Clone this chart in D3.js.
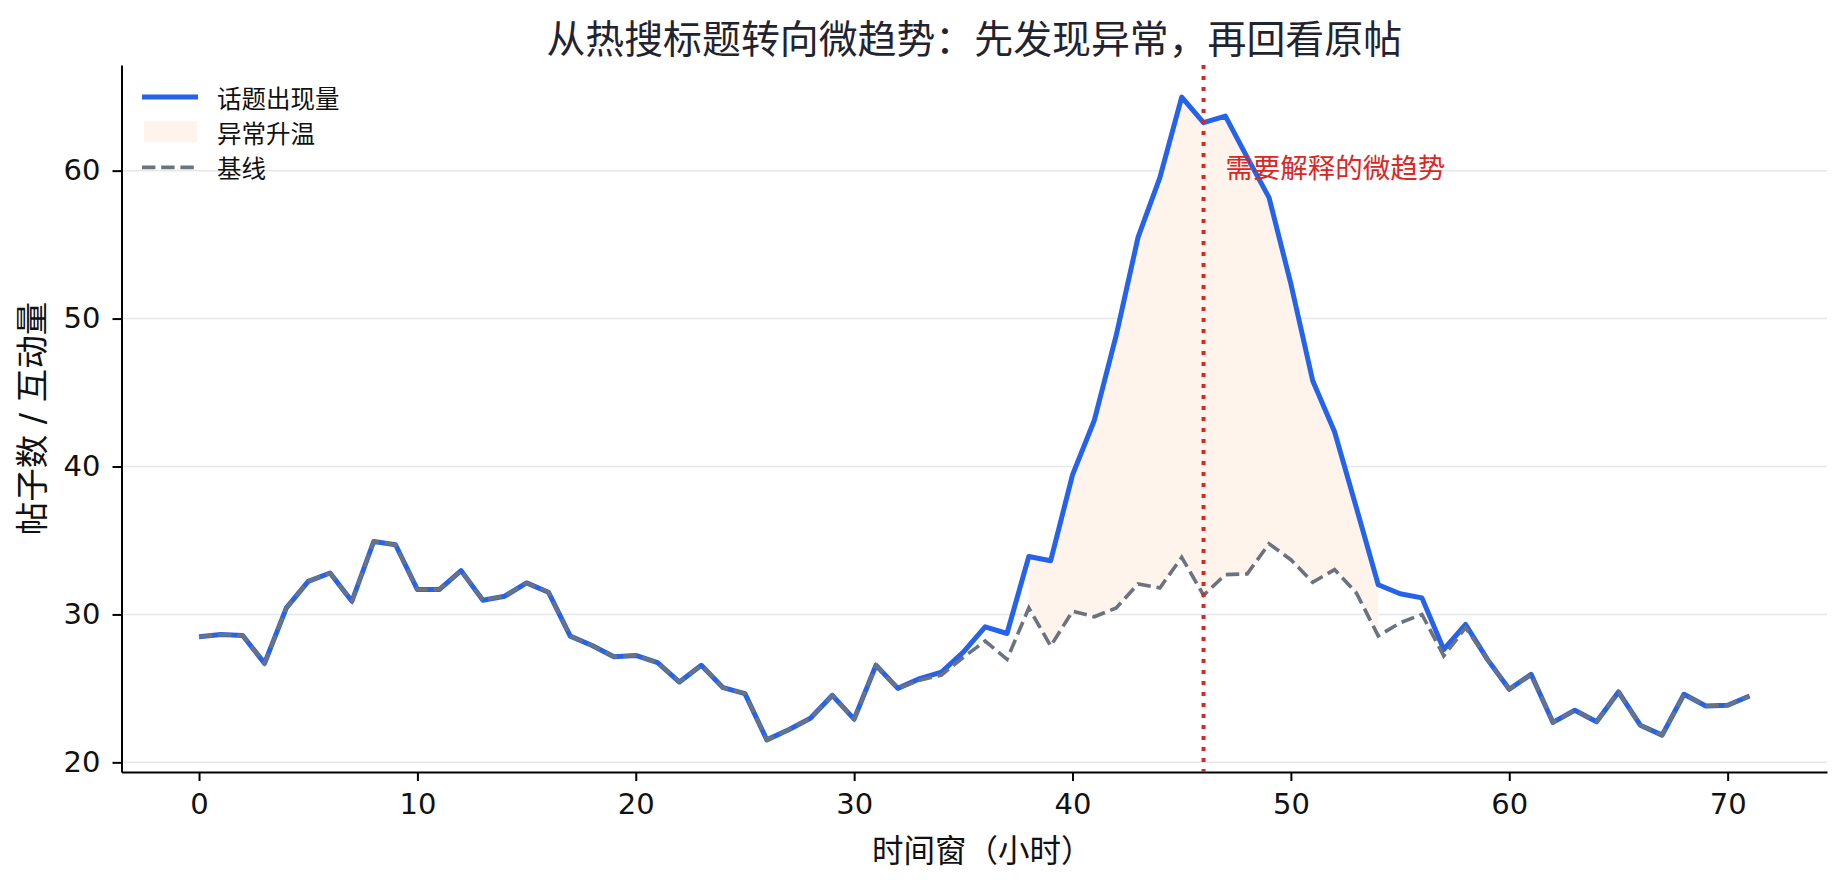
<!DOCTYPE html>
<html>
<head>
<meta charset="utf-8">
<script src="https://cdn.jsdelivr.net/npm/d3@7"></script>
<style>
  body { margin: 0; background: #fff; }
  svg { display: block; font-family: "Noto Sans CJK SC", "Liberation Sans", sans-serif; }
</style>
</head>
<body>
<svg id="chart" width="1847" height="886"></svg>
<script>
// 话题出现量 (hour 0..71)
const topicVolume = [
  28.49, 28.64, 28.58, 26.69, 30.44, 32.24, 32.80, 30.89, 34.93, 34.71,
  31.68, 31.68, 32.96, 30.96, 31.23, 32.13, 31.50, 28.53, 27.90, 27.14,
  27.23, 26.74, 25.43, 26.56, 25.05, 24.65, 21.52, 22.20, 22.98, 24.53,
  22.92, 26.56, 25.00, 25.66, 26.10, 27.45, 29.16, 28.71, 33.92, 33.63,
  39.43, 43.13, 48.86, 55.49, 59.53, 64.97, 63.24, 63.69, 60.90, 58.18,
  52.34, 45.80, 42.35, 37.20, 32.01, 31.40, 31.12, 27.63, 29.32, 26.96,
  24.94, 25.95, 22.70, 23.52, 22.74, 24.76, 22.51, 21.84, 24.60, 23.81,
  23.86, 24.49
];
// 基线
const baseline = [
  28.49, 28.64, 28.58, 26.69, 30.44, 32.24, 32.80, 30.89, 34.93, 34.71,
  31.68, 31.68, 32.96, 30.96, 31.23, 32.13, 31.50, 28.53, 27.90, 27.14,
  27.23, 26.74, 25.43, 26.56, 25.05, 24.65, 21.52, 22.20, 22.98, 24.53,
  22.92, 26.56, 25.00, 25.55, 25.90, 27.10, 28.20, 26.96, 30.44, 27.86,
  30.22, 29.84, 30.44, 32.06, 31.79, 33.86, 31.30, 32.69, 32.74, 34.78,
  33.70, 32.17, 33.03, 31.45, 28.55, 29.43, 30.00, 27.20, 29.10, 26.96,
  24.94, 25.95, 22.70, 23.52, 22.74, 24.76, 22.51, 21.84, 24.60, 23.81,
  23.86, 24.49
];

const xTicks = [0, 10, 20, 30, 40, 50, 60, 70];
const yTicks = [20, 30, 40, 50, 60];

const anomalyStart = 38;
const anomalyEnd = 54;
const markerHour = 46;
const noteHour = 47;
const noteValue = 60;

const titleText = "从热搜标题转向微趋势：先发现异常，再回看原帖";
const xLabel = "时间窗（小时）";
const yLabel = "帖子数 / 互动量";
const noteText = "需要解释的微趋势";
const legendItems = ["话题出现量", "异常升温", "基线"];

const blue = "#2563eb", gray = "#6b7280", red = "#dc2626", warm = "#fef4ec";

const svg = d3.select("#chart");
const margin = {top: 65, right: 20, bottom: 114, left: 121.5};
const width = +svg.attr("width") - margin.left - margin.right;
const height = +svg.attr("height") - margin.top - margin.bottom;
const g = svg.append("g").attr("transform", "translate(" + margin.left + "," + margin.top + ")");

// matplotlib-style 5% padding
function pad(ext) {
  const d = (ext[1] - ext[0]) * 0.05;
  return [ext[0] - d, ext[1] + d];
}

const data = topicVolume.map((v, i) => ({hour: i, topic: v, base: baseline[i]}));

const x = d3.scaleLinear().domain(pad(d3.extent(data, d => d.hour))).range([0, width]);
const y = d3.scaleLinear().domain(pad(d3.extent(topicVolume.concat(baseline)))).range([height, 0]);

// grid
g.append("g").selectAll("line").data(yTicks).enter().append("line")
    .attr("x1", 0).attr("x2", width)
    .attr("y1", d => y(d)).attr("y2", d => y(d))
    .attr("stroke", "#e5e7eb").attr("stroke-width", 1.5);

// anomaly fill
const windowData = data.filter(d => d.hour >= anomalyStart && d.hour <= anomalyEnd);
g.append("path")
    .datum(windowData)
    .attr("fill", warm)
    .attr("d", d3.area().x(d => x(d.hour)).y0(d => y(d.base)).y1(d => y(d.topic)));

// lines
g.append("path")
    .datum(data)
    .attr("fill", "none")
    .attr("stroke", blue)
    .attr("stroke-width", 5)
    .attr("stroke-linejoin", "round")
    .attr("d", d3.line().x(d => x(d.hour)).y(d => y(d.topic)));

g.append("path")
    .datum(data)
    .attr("fill", "none")
    .attr("stroke", gray)
    .attr("stroke-width", 3.6)
    .attr("stroke-dasharray", "13.4,5.8")
    .attr("d", d3.line().x(d => x(d.hour)).y(d => y(d.base)));

// axes
const xAxis = g.append("g")
    .attr("transform", "translate(0," + height + ")")
    .call(d3.axisBottom(x).tickValues(xTicks).tickSize(9).tickSizeOuter(0).tickPadding(12));
const yAxis = g.append("g")
    .call(d3.axisLeft(y).tickValues(yTicks).tickSize(9).tickSizeOuter(0).tickPadding(12));

[xAxis, yAxis].forEach(a => {
  a.select(".domain").attr("stroke", "#000").attr("stroke-width", 2);
  a.selectAll(".tick line").attr("stroke", "#000").attr("stroke-width", 2);
  a.selectAll(".tick text")
      .attr("fill", "#111")
      .attr("font-size", 29)
      .attr("font-family", "'DejaVu Sans', sans-serif");
});

// marker line
g.append("line")
    .attr("x1", x(markerHour)).attr("x2", x(markerHour))
    .attr("y1", 0).attr("y2", height)
    .attr("stroke", red).attr("stroke-width", 4)
    .attr("stroke-dasharray", "4,7");

g.append("text")
    .attr("x", x(noteHour))
    .attr("y", y(noteValue))
    .attr("dy", "0.25em")
    .attr("fill", red)
    .attr("font-size", 27.5)
    .text(noteText);

// labels
svg.append("text")
    .attr("x", margin.left + width / 2).attr("y", 36)
    .attr("text-anchor", "middle").attr("dominant-baseline", "central")
    .attr("font-size", 38.9).attr("fill", "#1f2430")
    .text(titleText);

svg.append("text")
    .attr("x", margin.left + width / 2 + 8).attr("y", 848)
    .attr("text-anchor", "middle").attr("dominant-baseline", "central")
    .attr("font-size", 31.5).attr("fill", "#111")
    .text(xLabel);

svg.append("text")
    .attr("transform", "translate(32," + (margin.top + height / 2) + ") rotate(-90)")
    .attr("text-anchor", "middle").attr("dominant-baseline", "central")
    .attr("font-size", 33.5).attr("fill", "#111")
    .style("font-family", "'DejaVu Sans', 'Noto Sans CJK SC', sans-serif")
    .text(yLabel);

// legend
const legend = g.append("g")
    .attr("font-size", 24.5)
    .selectAll("g")
    .data(legendItems)
    .enter().append("g")
    .attr("transform", (d, i) => "translate(0," + (32 + i * 35.2) + ")");

legend.each(function (d, i) {
  const row = d3.select(this);
  if (i === 0) {
    row.append("line").attr("x1", 20.5).attr("x2", 76.5)
        .attr("stroke", blue).attr("stroke-width", 5);
  } else if (i === 1) {
    row.append("rect").attr("x", 22.5).attr("y", -11).attr("width", 53).attr("height", 21)
        .attr("fill", warm);
  } else {
    row.append("line").attr("x1", 20.5).attr("x2", 76.5)
        .attr("stroke", gray).attr("stroke-width", 3.6)
        .attr("stroke-dasharray", "13.4,5.8");
  }
  row.append("text")
      .attr("x", 95.5)
      .attr("dominant-baseline", "central")
      .attr("fill", "#111")
      .text(d);
});
</script>
</body>
</html>
